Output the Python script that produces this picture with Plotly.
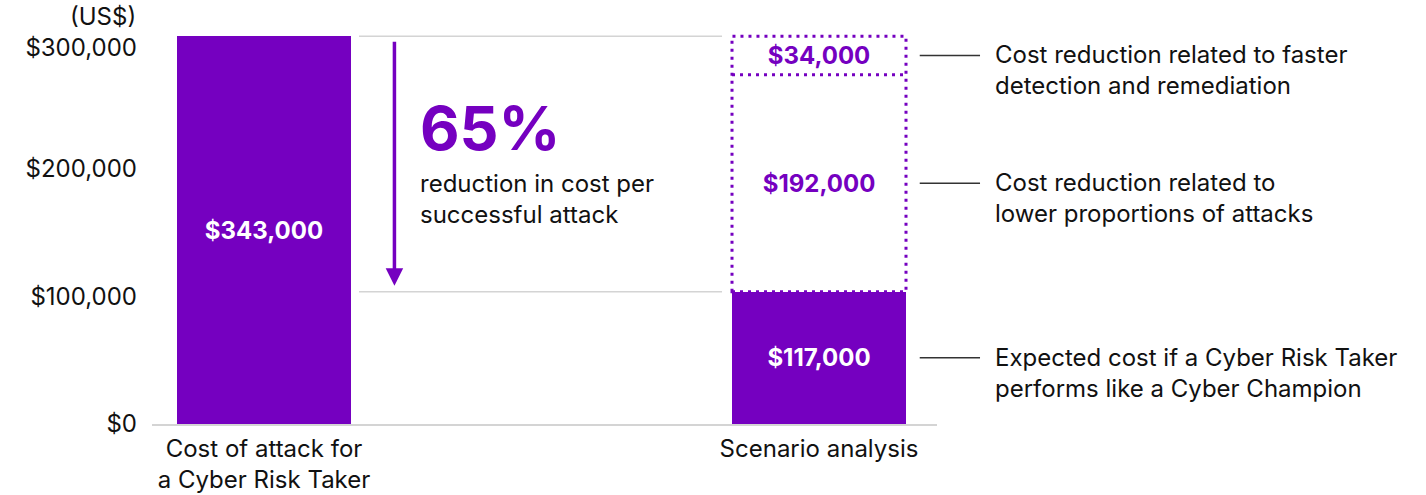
import plotly.graph_objects as go

# ---- data ----
categories = ["Cost of attack for<br>a Cyber Risk Taker", "Scenario analysis"]
cost_risk_taker = 343000
scenario_expected = 117000
scenario_lower_attacks = 192000
scenario_faster_detection = 34000
tick_labels = ["$0", "$100,000", "$200,000", "$300,000"]
tick_positions = [0, 113000, 226000, 333000]
headline = "65%"
headline_sub = "reduction in cost per<br>successful attack"
side_notes = [
    "Cost reduction related to faster<br>detection and remediation",
    "Cost reduction related to<br>lower proportions of attacks",
    "Expected cost if a Cyber Risk Taker<br>performs like a Cyber Champion",
]

PURPLE = "#7500C0"
GRAY = "#d4d4d4"
INK = "#111111"
FONT = "Inter"
BW = 0.3135
FS = 24

def money(v):
    return "${:,.0f}".format(v)

fig = go.Figure()
fig.add_bar(x=[0], y=[cost_risk_taker], width=BW, marker=dict(color=PURPLE, line=dict(width=0)),
            text=[money(cost_risk_taker)], textposition="inside", insidetextanchor="middle",
            textfont=dict(color="white", size=24, family=FONT, weight="bold"), textangle=0)
fig.add_bar(x=[1], y=[scenario_expected], width=BW, marker=dict(color=PURPLE, line=dict(width=0)),
            text=[money(scenario_expected)], textposition="inside", insidetextanchor="middle",
            textfont=dict(color="white", size=24, family=FONT, weight="bold"), textangle=0)
fig.add_bar(x=[1], y=[scenario_lower_attacks], width=BW, marker=dict(color="rgba(0,0,0,0)", line=dict(width=0)),
            text=[money(scenario_lower_attacks)], textposition="inside", insidetextanchor="middle",
            textfont=dict(color=PURPLE, size=24, family=FONT, weight="bold"), textangle=0)
fig.add_bar(x=[1], y=[scenario_faster_detection], width=BW, marker=dict(color="rgba(0,0,0,0)", line=dict(width=0)),
            text=[money(scenario_faster_detection)], textposition="inside", insidetextanchor="middle",
            textfont=dict(color=PURPLE, size=24, family=FONT, weight="bold"), textangle=0)

top_s = scenario_expected + scenario_lower_attacks + scenario_faster_detection
mid_s = scenario_expected + scenario_lower_attacks
dot = "3px,5px"
# dotted outline of the reduction segments
fig.add_shape(type="rect", x0=1 - BW / 2, x1=1 + BW / 2, y0=scenario_expected, y1=top_s,
              line=dict(color=PURPLE, width=3, dash=dot), fillcolor="rgba(0,0,0,0)")
fig.add_shape(type="line", x0=1 - BW / 2, x1=1 + BW / 2, y0=mid_s, y1=mid_s,
              line=dict(color=PURPLE, width=3, dash=dot))
# connector lines between columns
for yv in [cost_risk_taker, scenario_expected]:
    fig.add_shape(type="line", x0=BW / 2 + 0.0144, x1=1 - BW / 2 - 0.018, y0=yv, y1=yv,
                  line=dict(color=GRAY, width=1.5))

# arrow
fig.add_annotation(x=0.235, y=scenario_expected, ax=0.235, ay=cost_risk_taker, xref="x", yref="y",
                   axref="x", ayref="y", text="", showarrow=True, arrowhead=2, arrowsize=1,
                   arrowwidth=3.5, arrowcolor=PURPLE, standoff=6, startstandoff=4)
fig.add_annotation(x=0.2775, y=0.759, xref="x", yref="paper", text=headline, showarrow=False,
                   xanchor="left", yanchor="middle", font=dict(family=FONT, size=61, color=PURPLE, weight="bold"))
fig.add_annotation(x=0.2775, y=0.577, xref="x", yref="paper", text=headline_sub, showarrow=False,
                   xanchor="left", yanchor="middle", align="left", font=dict(family=FONT, size=FS, color=INK))

# side notes
mids = [mid_s + scenario_faster_detection / 2, scenario_expected + scenario_lower_attacks / 2, scenario_expected / 2]
for note, m in zip(side_notes, mids):
    fig.add_shape(type="line", xref="paper", yref="y", x0=0.978, x1=1.0548, y0=m, y1=m,
                  line=dict(color="#333333", width=1.5))
    fig.add_annotation(x=1.0713, y=m, xref="paper", yref="y", text=note, showarrow=False,
                       xanchor="left", yanchor="middle", align="left", yshift=-15,
                       font=dict(family=FONT, size=FS, color=INK))

fig.add_annotation(x=-0.0178, y=1.0436, xref="paper", yref="paper", text="(US$)", showarrow=False,
                   xanchor="right", yanchor="middle", font=dict(family=FONT, size=FS, color=INK))

fig.update_layout(
    width=1426, height=495, barmode="stack", showlegend=False,
    margin=dict(l=152, r=489, t=34, b=71),
    paper_bgcolor="white", plot_bgcolor="white",
    font=dict(family=FONT, size=FS, color=INK),
    uniformtext=dict(mode=False),
)
fig.update_xaxes(range=[-0.2018, 1.2126], tickvals=[0, 1], ticktext=categories, showgrid=False,
                 zeroline=False, showline=True, linecolor=GRAY, linewidth=2, ticks="",
                 tickfont=dict(family=FONT, size=FS, color=INK), ticklabelstandoff=2, automargin=False)
fig.update_yaxes(range=[0, 345000], tickvals=tick_positions, ticktext=tick_labels, showgrid=False,
                 zeroline=False, showline=False, ticks="", ticklabelstandoff=14, automargin=False,
                 tickfont=dict(family=FONT, size=FS, color=INK))

fig.write_html("out.html")
